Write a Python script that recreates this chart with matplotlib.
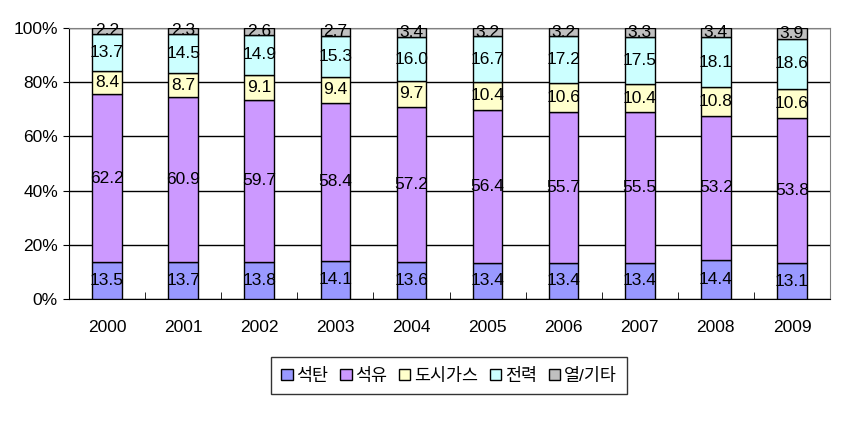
import numpy as np
import matplotlib.pyplot as plt
from matplotlib.ticker import FuncFormatter

plt.rcParams['font.family'] = ['Liberation Sans', 'Noto Sans CJK KR']

years = ['2000', '2001', '2002', '2003', '2004', '2005', '2006', '2007', '2008', '2009']
series_names = ['석탄', '석유', '도시가스', '전력', '열/기타']
coal = [13.5, 13.7, 13.8, 14.1, 13.6, 13.4, 13.4, 13.4, 14.4, 13.1]
oil = [62.2, 60.9, 59.7, 58.4, 57.2, 56.4, 55.7, 55.5, 53.2, 53.8]
gas = [8.4, 8.7, 9.1, 9.4, 9.7, 10.4, 10.6, 10.4, 10.8, 10.6]
power = [13.7, 14.5, 14.9, 15.3, 16.0, 16.7, 17.2, 17.5, 18.1, 18.6]
other = [2.2, 2.3, 2.6, 2.7, 3.4, 3.2, 3.2, 3.3, 3.4, 3.9]
colors = ['#9999FF', '#CC99FF', '#FFFFCC', '#CCFFFF', '#C0C0C0']

fig = plt.figure(figsize=(8.44, 4.26), dpi=100)
ax = fig.add_axes([69 / 844, 1 - 299 / 426, (830 - 69) / 844, (299 - 28) / 426])

x = np.arange(len(years))
bottom = np.zeros(len(years))
for name, vals, col in zip(series_names, [coal, oil, gas, power, other], colors):
    vals = np.array(vals)
    ax.bar(x, vals, 0.39, bottom=bottom, color=col, edgecolor='black', linewidth=1,
           label=name, zorder=3)
    for xi, b, v in zip(x, bottom, vals):
        ax.text(xi, b + v / 2, f'{v:.1f}', ha='center', va='center', fontsize=12.5, zorder=4)
    bottom += vals

ax.set_xlim(-0.5, len(years) - 0.5)
ax.set_ylim(0, 100)
ax.set_yticks(range(0, 101, 20))
ax.yaxis.set_major_formatter(FuncFormatter(lambda v, p: f'{int(v)}%'))
ax.yaxis.grid(True, color='black', linewidth=1, zorder=0)
ax.set_xticks(x)
ax.set_xticklabels(years)
ax.set_xticks(np.arange(0.5, len(years) - 1, 1), minor=True)
ax.tick_params(axis='x', which='major', length=0, pad=15, labelsize=12.5)
ax.tick_params(axis='x', which='minor', length=5, direction='in', color='black')
ax.tick_params(axis='y', length=4, labelsize=12.5, pad=4)

for s in ['top', 'right']:
    ax.spines[s].set_color('#808080')
for s in ['left', 'bottom']:
    ax.spines[s].set_color('black')

leg = fig.legend(loc='center', bbox_to_anchor=(449 / 844, 1 - 375.5 / 426), ncol=5,
                 frameon=True, fancybox=False, edgecolor='black', fontsize=12.5,
                 handlelength=0.65, handleheight=0.65, handletextpad=0.2, columnspacing=0.7,
                 borderpad=0.6, borderaxespad=0)
leg.get_frame().set_linewidth(1)

fig.savefig('out.png', dpi=100)
